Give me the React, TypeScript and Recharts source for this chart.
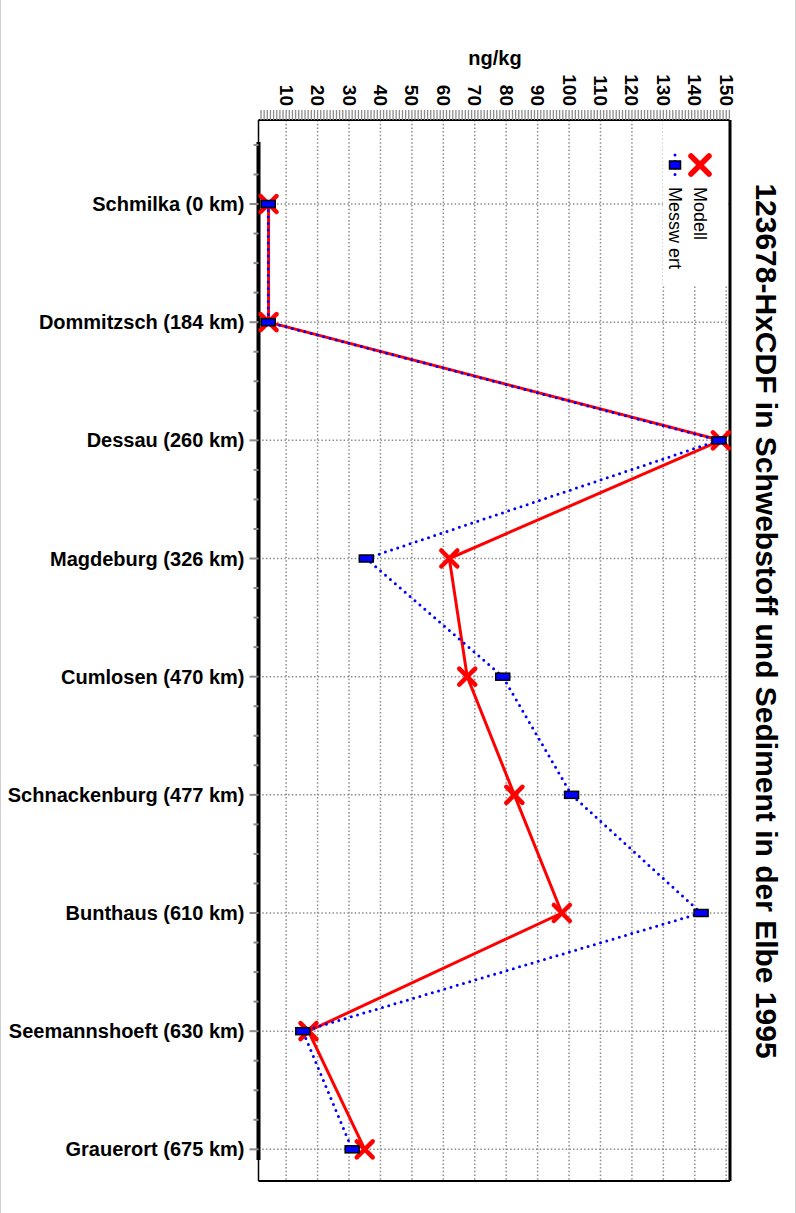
import React from "react";
import {
  ScatterChart,
  Scatter,
  XAxis,
  YAxis,
  ReferenceLine,
  Legend,
} from "recharts";

const stations = [
  "Schmilka (0 km)",
  "Dommitzsch (184 km)",
  "Dessau (260 km)",
  "Magdeburg (326 km)",
  "Cumlosen (470 km)",
  "Schnackenburg (477 km)",
  "Bunthaus (610 km)",
  "Seemannshoeft (630 km)",
  "Grauerort (675 km)",
];
const modell = [4.4, 4.4, 148.3, 61.9, 67.6, 82.6, 97.7, 17.1, 35.0];
const messwert = [4.3, 4.3, 147.7, 35.5, 78.9, 100.8, 142.0, 15.3, 31.0];
const valueTicks = [10, 20, 30, 40, 50, 60, 70, 80, 90, 100, 110, 120, 130, 140, 150];

const X_MIN = 1.2;
const X_MAX = 151.2;
const Y_MIN = -0.711;
const Y_MAX = 8.268;

const FONT = "Arial, 'Liberation Sans', sans-serif";
const GRID = "#8c8c8c";

// minor ticks: every unit on the value axis, quarter steps on the station axis
const xMinorTicks = Array.from({ length: 150 }, (_, i) => i + 2);
const yMinorTicks = Array.from({ length: 35 }, (_, i) => -0.5 + i * 0.25);
const stationIdx = stations.map((_, i) => i);

const modellPts = stations.map((_, i) => ({ idx: i, v: modell[i] }));
const messPts = stations.map((_, i) => ({ idx: i, v: messwert[i] }));

const ValueTick = (props: any) => {
  const { x, y, payload } = props;
  if (payload.value % 10 !== 0) return <g />;
  return (
    <text
      x={x}
      y={y}
      transform={`rotate(90 ${x} ${y})`}
      textAnchor="end"
      dominantBaseline="central"
      fontFamily={FONT}
      fontWeight="bold"
      fontSize={19}
      fill="#000"
    >
      {payload.value}
    </text>
  );
};

const StationTick = (props: any) => {
  const { x, y, payload } = props;
  const v = payload.value;
  const major = Number.isInteger(v);
  const ax = x + 14;
  return (
    <g>
      <line x1={ax - (major ? 9 : 5)} x2={ax} y1={y} y2={y} stroke={GRID} strokeWidth={2} />
      {major && (
        <text
          x={x}
          y={y}
          textAnchor="end"
          dominantBaseline="central"
          fontFamily={FONT}
          fontWeight="bold"
          fontSize={20}
          fill="#000"
        >
          {stations[v]}
        </text>
      )}
    </g>
  );
};

const XMark = (p: any) => {
  const { cx, cy } = p;
  const s = 8;
  return (
    <g>
      <line x1={cx - s} y1={cy - s} x2={cx + s} y2={cy + s} stroke="#ff0000" strokeWidth={4.5} strokeLinecap="round" />
      <line x1={cx - s} y1={cy + s} x2={cx + s} y2={cy - s} stroke="#ff0000" strokeWidth={4.5} strokeLinecap="round" />
    </g>
  );
};

const RectMark = (p: any) => {
  const { cx, cy } = p;
  return <rect x={cx - 7} y={cy - 3.5} width={14} height={7} fill="#0000ff" stroke="#000" strokeWidth={1.5} />;
};

const renderLegend = () => (
  <div
    style={{
      position: "relative",
      width: 65,
      height: 165,
      background: "#fff",
      fontFamily: FONT,
      fontSize: 18,
      color: "#000",
    }}
  >
    <svg width={65} height={70} style={{ position: "absolute", left: 0, top: 0 }}>
      <line x1={28} y1={35} x2={46} y2={53} stroke="#ff0000" strokeWidth={5.5} strokeLinecap="round" />
      <line x1={28} y1={53} x2={46} y2={35} stroke="#ff0000" strokeWidth={5.5} strokeLinecap="round" />
      <line x1={12} y1={34} x2={12} y2={57} stroke="#0000ff" strokeWidth={3} strokeDasharray="0 6.5" strokeLinecap="round" />
      <rect x={6.5} y={40} width={11} height={8} fill="#0000ff" stroke="#000" strokeWidth={1.5} />
    </svg>
    <span style={{ position: "absolute", left: 27, top: 66, width: 20, lineHeight: "20px", writingMode: "vertical-rl", whiteSpace: "nowrap" }}>
      Modell
    </span>
    <span style={{ position: "absolute", left: 2, top: 66, width: 20, lineHeight: "20px", writingMode: "vertical-rl", whiteSpace: "nowrap" }}>
      Messw ert
    </span>
  </div>
);

export default function App() {
  return (
    <div
      style={{
        position: "absolute",
        left: 0,
        top: 0,
        width: 796,
        height: 1213,
        background: "#fff",
        boxSizing: "border-box",
        borderLeft: "1px solid #cfcfcf",
        borderRight: "1px solid #cfcfcf",
      }}
    >
      <ScatterChart width={796} height={1213} margin={{ top: 0, right: 67, bottom: 32, left: 0 }}>
        <XAxis
          type="number"
          dataKey="v"
          orientation="top"
          domain={[X_MIN, X_MAX]}
          ticks={xMinorTicks}
          interval={0}
          height={120}
          tickSize={10}
          tickMargin={4}
          tick={<ValueTick />}
          tickLine={{ stroke: GRID, strokeWidth: 1.3 }}
          axisLine={{ stroke: "#000", strokeWidth: 2 }}
        />
        <YAxis
          type="number"
          dataKey="idx"
          domain={[Y_MIN, Y_MAX]}
          reversed
          ticks={yMinorTicks}
          interval={0}
          width={257.5}
          tickSize={9}
          tickMargin={5}
          tick={<StationTick />}
          tickLine={false}
          axisLine={{ stroke: "#000", strokeWidth: 1.5 }}
        />

        {/* dotted grid */}
        {valueTicks.map((t) => (
          <ReferenceLine key={`gx${t}`} x={t} stroke={GRID} strokeWidth={1.5} strokeDasharray="1.5 2.2" />
        ))}
        {stationIdx.map((i) => (
          <ReferenceLine key={`gy${i}`} y={i} stroke={GRID} strokeWidth={1.5} strokeDasharray="1.5 2.2" />
        ))}

        {/* plot frame */}
        <ReferenceLine x={X_MAX} stroke="#000" strokeWidth={3} />
        <ReferenceLine y={Y_MAX} stroke="#000" strokeWidth={2} />
        <ReferenceLine
          segment={[
            { x: X_MIN, y: -0.525 },
            { x: X_MIN, y: 8.09 },
          ]}
          stroke="#000"
          strokeWidth={4}
        />

        <Scatter
          name="Modell"
          data={modellPts}
          fill="#ff0000"
          line={{ stroke: "#ff0000", strokeWidth: 3 }}
          lineType="joint"
          shape={<XMark />}
          isAnimationActive={false}
        />
        <Scatter
          name="Messwert"
          data={messPts}
          fill="#0000ff"
          line={{ stroke: "#0000ff", strokeWidth: 3, strokeDasharray: "0 6.5", strokeLinecap: "round" }}
          lineType="joint"
          shape={<RectMark />}
          isAnimationActive={false}
        />

        <Legend
          layout="horizontal"
          verticalAlign="middle"
          align="center"
          content={renderLegend}
          wrapperStyle={{ left: 662, top: 121, width: 65, height: 165 }}
        />
      </ScatterChart>

      <div
        style={{
          position: "absolute",
          left: 494,
          top: 58,
          transform: "translate(-50%, -50%)",
          fontFamily: FONT,
          fontWeight: "bold",
          fontSize: 20,
          whiteSpace: "nowrap",
        }}
      >
        ng/kg
      </div>
      <div
        style={{
          position: "absolute",
          left: 765,
          top: 621,
          transform: "translate(-50%, -50%) rotate(90deg)",
          fontFamily: FONT,
          fontWeight: "bold",
          fontSize: 30,
          whiteSpace: "nowrap",
        }}
      >
        123678-HxCDF in Schwebstoff und Sediment in der Elbe 1995
      </div>
    </div>
  );
}
